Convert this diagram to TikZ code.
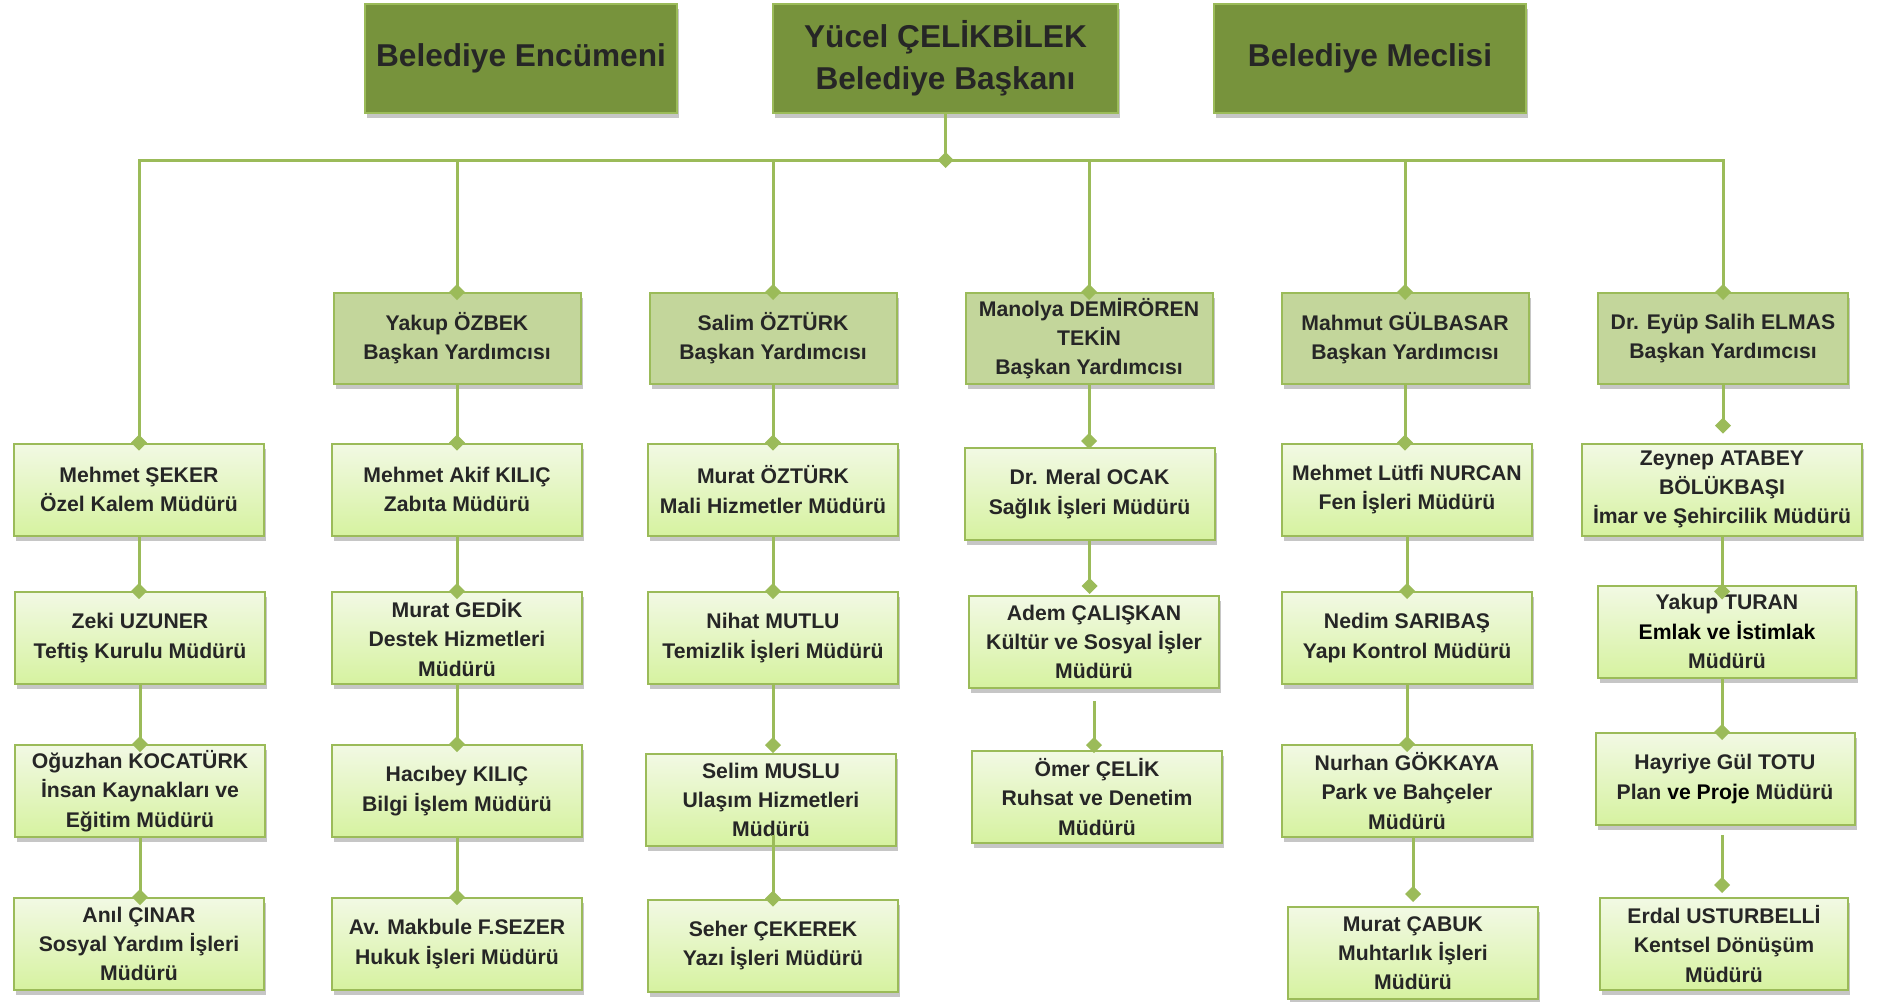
\documentclass[tikz,border=0pt]{standalone}
\usepackage{fontspec}
\setmainfont{Liberation Sans}
\usetikzlibrary{arrows.meta,shadows}
\definecolor{koyuyesil}{HTML}{77933C}
\definecolor{ortayesil}{HTML}{C3D69B}
\definecolor{cizgi}{HTML}{9BBB59}
\definecolor{acikust}{HTML}{F2F9E4}
\definecolor{acikalt}{HTML}{D6F2A0}
\definecolor{yazi}{HTML}{262626}

\begin{document}
\begin{tikzpicture}[
        x=0.5pt,
        y=-0.5pt,
        kutu/.style={drop shadow={shadow xshift=1pt,shadow yshift=-2.5pt,opacity=0.45},
            draw=cizgi,line width=1pt,inner sep=0pt,align=center,text=yazi,
            font=\bfseries\fontsize{10.6}{14.6}\selectfont},
        ust/.style={kutu,fill=koyuyesil,minimum width=156pt,minimum height=54.5pt,
            font=\bfseries\fontsize{15.8}{21}\selectfont},
        yrd/.style={kutu,fill=ortayesil,minimum width=123.5pt,minimum height=45.5pt},
        mud/.style={kutu,top color=acikust,bottom color=acikalt,minimum width=125pt,minimum height=46pt},
        hat/.style={draw=cizgi,line width=1.5pt},
        bag/.style={hat,-{Diamond[length=8pt,width=8pt]},shorten >=-4pt}]

\useasboundingbox (0,0) rectangle (1881,1002);

%Üst kutular
\node[ust] (enc) at (521,58.5) {Belediye Encümeni};
\node[ust,minimum width=172.5pt] (bsk) at (945.5,58.5) {Yücel ÇELİKBİLEK\\Belediye Başkanı};
\node[ust] (mec) at (1370,58.5) {Belediye Meclisi};
\coordinate (bus) at (945.5,160);

%Başkan Yardımcıları
\node[yrd] (yrd1) at (457,338.5) {Yakup ÖZBEK\\Başkan Yardımcısı};
\node[yrd] (yrd2) at (773,338.5) {Salim ÖZTÜRK\\Başkan Yardımcısı};
\node[yrd] (yrd3) at (1089,338.5) {Manolya DEMİRÖREN\\TEKİN\\Başkan Yardımcısı};
\node[yrd] (yrd4) at (1405,338.5) {Mahmut GÜLBASAR\\Başkan Yardımcısı};
\node[yrd,minimum width=125pt] (yrd5) at (1723,338.5) {Dr. Eyüp Salih ELMAS\\Başkan Yardımcısı};

%1. sütun
\node[mud] (sek) at (139,489.6) {Mehmet ŞEKER\\Özel Kalem Müdürü};
\node[mud] (zeki) at (140,638) {Zeki UZUNER\\Teftiş Kurulu Müdürü};
\node[mud] (oguzhan) at (140,791) {Oğuzhan KOCATÜRK\\İnsan Kaynakları ve\\Eğitim Müdürü};
\node[mud] (anil) at (139,944) {Anıl ÇINAR\\Sosyal Yardım İşleri\\Müdürü};

%2. sütun
\node[mud] (akif) at (457,489.6) {Mehmet Akif KILIÇ\\Zabıta Müdürü};
\node[mud] (gedik) at (457,638) {Murat GEDİK\\Destek Hizmetleri\\Müdürü};
\node[mud] (hacibey) at (457,791) {Hacıbey KILIÇ\\Bilgi İşlem Müdürü};
\node[mud] (makbule) at (457,944) {Av. Makbule F.SEZER\\Hukuk İşleri Müdürü};

%3. sütun
\node[mud] (murato) at (773,489.6) {Murat ÖZTÜRK\\Mali Hizmetler Müdürü};
\node[mud] (nihat) at (773,638) {Nihat MUTLU\\Temizlik İşleri Müdürü};
\node[mud] (selim) at (771,800) {Selim MUSLU\\Ulaşım Hizmetleri\\Müdürü};
\node[mud] (seher) at (773,945.5) {Seher ÇEKEREK\\Yazı İşleri Müdürü};

%4. sütun
\node[mud] (meral) at (1089.5,494) {Dr. Meral OCAK\\Sağlık İşleri Müdürü};
\node[mud] (adem) at (1094,642) {Adem ÇALIŞKAN\\Kültür ve Sosyal İşler\\Müdürü};
\node[mud] (omer) at (1097,797) {Ömer ÇELİK\\Ruhsat ve Denetim\\Müdürü};

%5. sütun
\node[mud] (lutfi) at (1407,489.6) {Mehmet Lütfi NURCAN\\Fen İşleri Müdürü};
\node[mud] (nedim) at (1407,638) {Nedim SARIBAŞ\\Yapı Kontrol Müdürü};
\node[mud] (nurhan) at (1407,791) {Nurhan GÖKKAYA\\Park ve Bahçeler\\Müdürü};
\node[mud] (cabuk) at (1413,953) {Murat ÇABUK\\Muhtarlık İşleri\\Müdürü};

%6. sütun
\node[mud,minimum width=140pt] (zeynep) at (1722,489.6) {Zeynep ATABEY\\BÖLÜKBAŞI\\İmar ve Şehircilik Müdürü};
\node[mud,minimum width=129pt] (turan) at (1727,631.5) {Yakup TURAN\\{\color{black}Emlak ve İstimlak}\\Müdürü};
\node[mud,minimum width=129.5pt] (hayriye) at (1725,779) {Hayriye Gül TOTU\\Plan {\color{black}ve Proje} Müdürü};
\node[mud,minimum width=124pt] (erdal) at (1724,944) {Erdal USTURBELLİ\\Kentsel Dönüşüm\\Müdürü};

%Ana hat
\draw[hat,line cap=rect] (bus -| sek.north) -- (bus -| yrd5.north);
\draw[bag] (bsk.south) -- (bus);
\draw[bag] (bus -| sek.north) -- (sek.north);
\draw[bag] (bus -| yrd1.north) -- (yrd1.north);
\draw[bag] (bus -| yrd2.north) -- (yrd2.north);
\draw[bag] (bus -| yrd3.north) -- (yrd3.north);
\draw[bag] (bus -| yrd4.north) -- (yrd4.north);
\draw[bag] (bus -| yrd5.north) -- (yrd5.north);

%Bağlantılar 1. sütun
\draw[bag] (sek.south) -- (sek.south |- zeki.north);
\draw[bag] (zeki.south) -- (zeki.south |- oguzhan.north);
\draw[bag] (oguzhan.south) -- (oguzhan.south |- anil.north);

%Bağlantılar 2. sütun
\draw[bag] (yrd1.south) -- (yrd1.south |- akif.north);
\draw[bag] (akif.south) -- (akif.south |- gedik.north);
\draw[bag] (gedik.south) -- (gedik.south |- hacibey.north);
\draw[bag] (hacibey.south) -- (hacibey.south |- makbule.north);

%Bağlantılar 3. sütun
\draw[bag] (yrd2.south) -- (yrd2.south |- murato.north);
\draw[bag] (murato.south) -- (murato.south |- nihat.north);
\draw[bag,shorten >=0pt] (nihat.south) -- (nihat.south |- selim.north);
\draw[bag,shorten <=-6pt] (seher.north |- selim.south) -- (seher.north);

%Bağlantılar 4. sütun
\draw[bag,shorten >=-1pt] (yrd3.south) -- (yrd3.south |- meral.north);
\draw[bag,shorten >=0.5pt] (meral.south) -- (meral.south |- adem.north);
\draw[bag,shorten <=6pt,shorten >=-1.5pt] (adem.south) -- (adem.south |- omer.north);

%Bağlantılar 5. sütun
\draw[bag] (yrd4.south) -- (yrd4.south |- lutfi.north);
\draw[bag] (lutfi.south) -- (lutfi.south |- nedim.north);
\draw[bag] (nedim.south) -- (nedim.south |- nurhan.north);
\draw[bag,shorten >=2pt] (cabuk.north |- nurhan.south) -- (cabuk.north);

%Bağlantılar 6. sütun
\draw[bag,shorten >=4.5pt] (yrd5.south) -- (yrd5.south |- zeynep.north);
\draw[bag,shorten >=-7.5pt] (zeynep.south) -- (zeynep.south |- turan.north);
\draw[bag] (zeynep.south |- turan.south) -- (zeynep.south |- hayriye.north);
\draw[bag,shorten <=4.5pt,shorten >=2pt] (zeynep.south |- hayriye.south) -- (zeynep.south |- erdal.north);

\end{tikzpicture}
\end{document}
